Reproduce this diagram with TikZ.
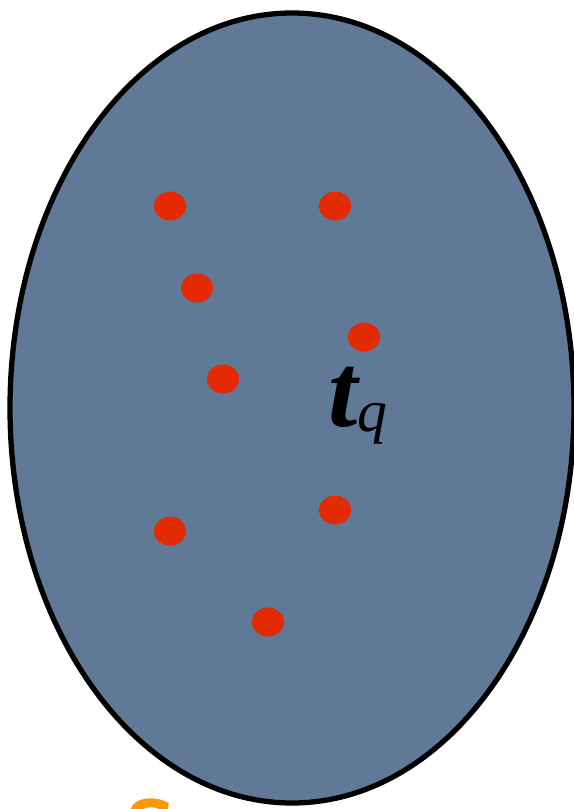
\documentclass[tikz,border=0pt]{standalone}
\usepackage{fontspec}
\setmainfont{Liberation Serif}
\usetikzlibrary{calc}
\definecolor{slate}{RGB}{96,121,150}
\definecolor{dotred}{RGB}{228,42,0}
\definecolor{setorange}{RGB}{250,150,10}

\begin{document}
\begin{tikzpicture}[x=0.02cm,y=-0.02cm]
	% Frame
	\useasboundingbox (0,0) rectangle (574,809);
	% Coordinates
	\coordinate (O) at (292,408);
	\coordinate (P1) at (170,206);
	\coordinate (P2) at (335,206);
	\coordinate (P3) at (197,288);
	\coordinate (P4) at (364,337);
	\coordinate (P5) at (223,379);
	\coordinate (P6) at (335,510);
	\coordinate (P7) at (170,531);
	\coordinate (P8) at (268,622);
	% Domain
	\filldraw[fill=slate,draw=black,line width=3pt] (O) ellipse [x radius=282, y radius=395];
	% Sample dots
	\foreach \P in {P1, P2, P3, P4, P5, P6, P7, P8} {
		\fill[dotred] (\P) ellipse [x radius=16, y radius=14.5];
	}
	% Labels
	\node[anchor=base west,inner sep=0pt] (tq) at (328,426)
		{{\fontsize{60}{66}\selectfont\bfseries\itshape t}\raisebox{-3pt}{\fontsize{34}{38}\selectfont\itshape q}};
	\node[anchor=north west,inner sep=0pt,text=setorange,scale=2.4,font=\huge\bfseries\sffamily] (sq) at (124,798) {S};
\end{tikzpicture}
\end{document}
